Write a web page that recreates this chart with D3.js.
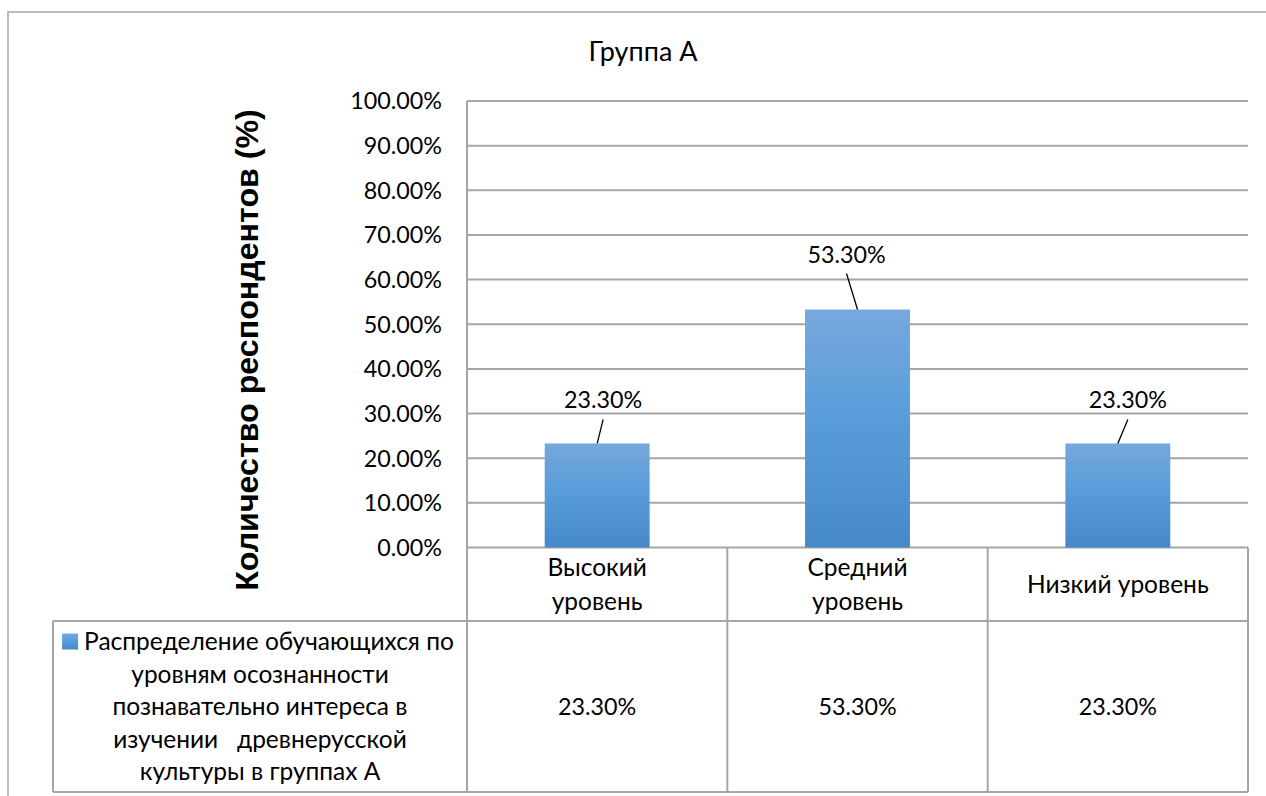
<!DOCTYPE html>
<html>
<head>
<meta charset="utf-8">
<script src="https://cdn.jsdelivr.net/npm/d3@7"></script>
<style>
  body { margin: 0; background: #fff; }
  text { font-family: Lato, "Open Sans", sans-serif; fill: #000; }
</style>
</head>
<body>
<div id="vis-container"></div>
<script>
// chart data
var chartTitle = "Группа А";
var yTitle = "Количество респондентов (%)";
var categories = ["Высокий\nуровень", "Средний\nуровень", "Низкий уровень"];
var values = [23.3, 53.3, 23.3];
var yTicks = [0, 10, 20, 30, 40, 50, 60, 70, 80, 90, 100];
var seriesLines = [
    "Распределение обучающихся по",
    "уровням осознанности",
    "познавательно интереса в",
    "изучении   древнерусской",
    "культуры в группах А"
];

// layout
var width = 1266, height = 796;
var plot = { left: 467, right: 1248, top: 101, bottom: 547.5 };
var table = { left: 53, row1: 547.5, row2: 621, bottom: 792 };
// manual label placement like in the original (offset from bar top centre)
var labelShift = [{ dx: 6, dy: -35 }, { dx: -11, dy: -47 }, { dx: 10, dy: -35 }];
var gridColor = "#a6a6a6";
var numSize = "23.3px", txtSize = "24.5px";
var fmt = function(v) { return v.toFixed(2) + "%"; };

var svg = d3.select("#vis-container").append("svg")
    .attr("width", width).attr("height", height);

var grad = svg.append("defs").append("linearGradient")
    .attr("id", "barGrad").attr("x1", 0).attr("y1", 0).attr("x2", 0).attr("y2", 1);
grad.append("stop").attr("offset", "0%").attr("stop-color", "#77a8dc");
grad.append("stop").attr("offset", "45%").attr("stop-color", "#589dda");
grad.append("stop").attr("offset", "100%").attr("stop-color", "#4689c9");

// outer chart border (runs off the picture on right and bottom)
svg.append("rect")
    .attr("x", 8).attr("y", 12).attr("width", 1300).attr("height", 820)
    .attr("fill", "none").attr("stroke", gridColor).attr("stroke-width", 1.5);

var xScale = d3.scaleBand().domain(categories).range([plot.left, plot.right]);
var yScale = d3.scaleLinear().domain([0, 100]).range([plot.bottom, plot.top]);
var barW = xScale.bandwidth() * 0.403;

// gridlines
svg.append("g").selectAll("line").data(yTicks).enter().append("line")
    .attr("x1", plot.left).attr("x2", plot.right)
    .attr("y1", d => yScale(d)).attr("y2", d => yScale(d))
    .attr("stroke", gridColor).attr("stroke-width", 2);

// y axis line
svg.append("line")
    .attr("x1", plot.left).attr("x2", plot.left)
    .attr("y1", plot.top).attr("y2", table.bottom)
    .attr("stroke", gridColor).attr("stroke-width", 2);

// tick labels
svg.append("g").selectAll("text").data(yTicks).enter().append("text")
    .attr("x", 442).attr("y", d => yScale(d)).attr("dy", "0.36em")
    .attr("text-anchor", "end").style("font-size", numSize)
    .text(d => fmt(d));

// y title
svg.append("text")
    .attr("transform", "translate(258,350) rotate(-90)")
    .attr("text-anchor", "middle")
    .style("font-family", "'Liberation Sans', Arial, sans-serif")
    .style("font-weight", "bold").style("font-size", "32.2px")
    .text(yTitle);

// chart title
svg.append("text")
    .attr("x", 643).attr("y", 61).attr("text-anchor", "middle")
    .style("font-size", "27px").text(chartTitle);

// bars
svg.append("g").selectAll("rect").data(values).enter().append("rect")
    .attr("x", (d, i) => xScale(categories[i]) + xScale.bandwidth() / 2 - barW / 2)
    .attr("y", d => yScale(d))
    .attr("width", barW)
    .attr("height", d => yScale(0) - yScale(d))
    .attr("fill", "url(#barGrad)");

// data labels with leader lines
var labels = svg.append("g");
values.forEach(function(v, i) {
    var cx = xScale(categories[i]) + xScale.bandwidth() / 2;
    var top = yScale(v);
    var lx = cx + labelShift[i].dx, ly = top + labelShift[i].dy;
    labels.append("line")
        .attr("x1", lx).attr("y1", ly + 11).attr("x2", cx).attr("y2", top)
        .attr("stroke", "#000").attr("stroke-width", 1.3);
    labels.append("text")
        .attr("x", lx).attr("y", ly).attr("text-anchor", "middle")
        .style("font-size", numSize).text(fmt(v));
});

// data table
var tbl = svg.append("g").attr("stroke", gridColor).attr("stroke-width", 2).attr("fill", "none");
tbl.append("line").attr("x1", table.left).attr("x2", plot.right).attr("y1", table.row2).attr("y2", table.row2);
tbl.append("line").attr("x1", table.left).attr("x2", plot.right).attr("y1", table.bottom).attr("y2", table.bottom);
tbl.append("line").attr("x1", table.left).attr("x2", table.left).attr("y1", table.row2).attr("y2", table.bottom);
var edges = categories.map(c => xScale(c) + xScale.bandwidth());
tbl.selectAll(".vline").data(edges).enter().append("line")
    .attr("x1", d => d).attr("x2", d => d)
    .attr("y1", table.row1).attr("y2", table.bottom);

// category labels (header row)
var rowH1 = table.row2 - table.row1;
svg.append("g").selectAll("text").data(categories).enter().append("text")
    .attr("text-anchor", "middle")
    .style("font-size", txtSize)
    .each(function(d) {
        var lines = d.split("\n");
        var t = d3.select(this);
        var cx = xScale(d) + xScale.bandwidth() / 2;
        var lh = 34;
        var y0 = table.row1 + rowH1 / 2 - (lines.length - 1) * lh / 2;
        lines.forEach(function(l, k) {
            t.append("tspan").attr("x", cx).attr("y", y0 + k * lh).attr("dy", "0.36em").text(l);
        });
    });

// values row
var rowMid = (table.row2 + table.bottom) / 2;
svg.append("g").selectAll("text").data(values).enter().append("text")
    .attr("x", (d, i) => xScale(categories[i]) + xScale.bandwidth() / 2)
    .attr("y", rowMid).attr("dy", "0.36em")
    .attr("text-anchor", "middle").style("font-size", numSize)
    .text(d => fmt(d));

// series name with legend key
var legCx = (table.left + plot.left) / 2;
var legLh = 32.5;
var legY0 = rowMid - (seriesLines.length - 1) * legLh / 2;
var legText = svg.append("text").attr("text-anchor", "middle")
    .style("font-size", txtSize).style("white-space", "pre");
seriesLines.forEach(function(l, k) {
    legText.append("tspan")
        .attr("x", k === 0 ? legCx + 9 : legCx)
        .attr("y", legY0 + k * legLh).attr("dy", "0.36em")
        .text(l);
});
var firstW = legText.select("tspan").node().getComputedTextLength();
svg.append("rect")
    .attr("x", legCx + 9 - firstW / 2 - 22).attr("y", legY0 - 8)
    .attr("width", 16).attr("height", 16)
    .attr("fill", "url(#barGrad)");
</script>
</body>
</html>
